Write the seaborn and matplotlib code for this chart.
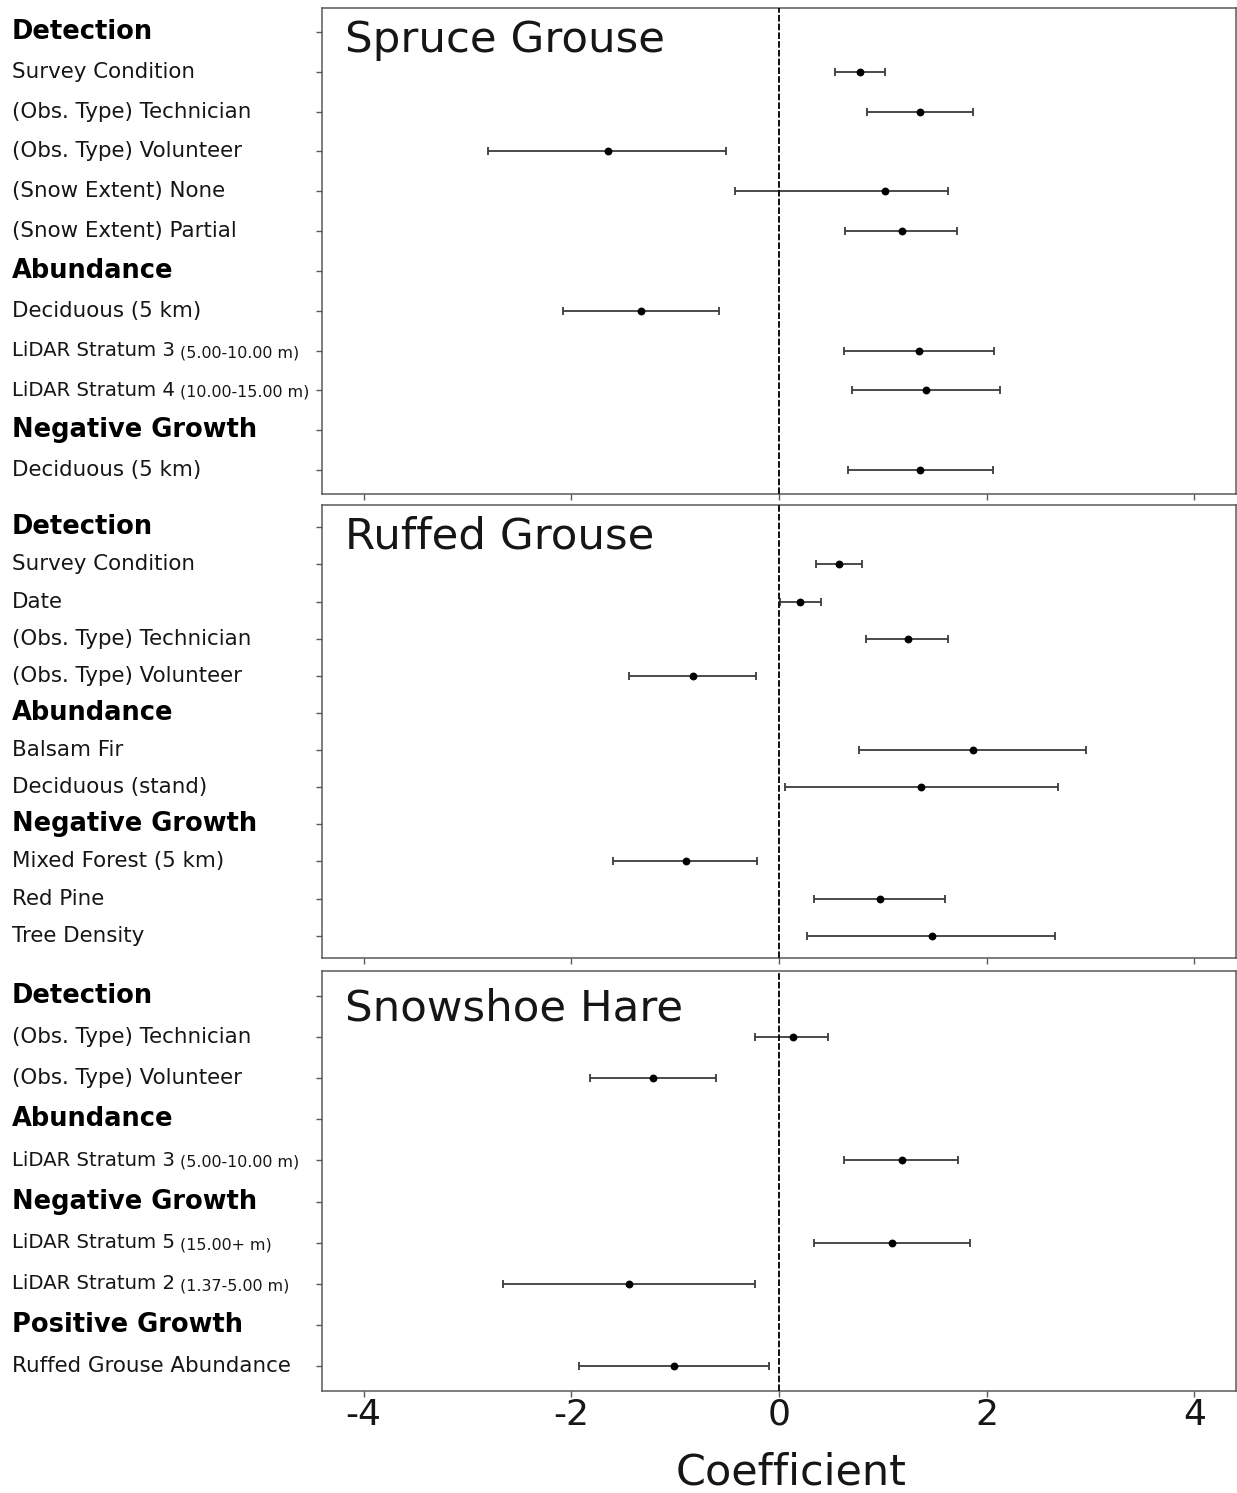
import numpy as np
import pandas as pd
import matplotlib
matplotlib.use("Agg")
import matplotlib.pyplot as plt
import matplotlib.transforms as mtransforms
import seaborn as sns

# ---- model coefficients (estimate with lower / upper interval) ----
HEADERS = ["Detection", "Abundance", "Negative Growth", "Positive Growth"]

spruce_labels = ["Detection", "Survey Condition", "(Obs. Type) Technician",
                 "(Obs. Type) Volunteer", "(Snow Extent) None", "(Snow Extent) Partial",
                 "Abundance", "Deciduous (5 km)", "LiDAR Stratum 3", "LiDAR Stratum 4",
                 "Negative Growth", "Deciduous (5 km)"]
spruce_notes = ["", "", "", "", "", "", "", "", "(5.00-10.00 m)", "(10.00-15.00 m)", "", ""]
spruce_est = [0.78, 1.36, -1.65, 1.02, 1.18, -1.33, 1.35, 1.42, 1.36]
spruce_lo = [0.54, 0.85, -2.80, -0.42, 0.64, -2.08, 0.63, 0.70, 0.66]
spruce_hi = [1.02, 1.87, -0.51, 1.63, 1.71, -0.58, 2.07, 2.13, 2.06]

ruffed_labels = ["Detection", "Survey Condition", "Date", "(Obs. Type) Technician",
                 "(Obs. Type) Volunteer", "Abundance", "Balsam Fir", "Deciduous (stand)",
                 "Negative Growth", "Mixed Forest (5 km)", "Red Pine", "Tree Density"]
ruffed_notes = [""] * len(ruffed_labels)
ruffed_est = [0.58, 0.20, 1.24, -0.83, 1.87, 1.37, -0.90, 0.97, 1.47]
ruffed_lo = [0.36, 0.01, 0.84, -1.44, 0.77, 0.06, -1.60, 0.34, 0.27]
ruffed_hi = [0.80, 0.40, 1.63, -0.22, 2.96, 2.69, -0.21, 1.60, 2.66]

hare_labels = ["Detection", "(Obs. Type) Technician", "(Obs. Type) Volunteer",
               "Abundance", "LiDAR Stratum 3", "Negative Growth", "LiDAR Stratum 5",
               "LiDAR Stratum 2", "Positive Growth", "Ruffed Grouse Abundance"]
hare_notes = ["", "", "", "", "(5.00-10.00 m)", "", "(15.00+ m)", "(1.37-5.00 m)", "", ""]
hare_est = [0.13, -1.21, 1.18, 1.09, -1.44, -1.01]
hare_lo = [-0.23, -1.82, 0.63, 0.34, -2.66, -1.93]
hare_hi = [0.47, -0.61, 1.72, 1.84, -0.23, -0.10]

x_ticks = [-4, -2, 0, 2, 4]

# ---- styling ----
sns.set_style("ticks")
plt.rcParams["font.family"] = ["DejaVu Sans"]
plt.rcParams["axes.unicode_minus"] = False
TEXT = "#161616"
SPINE = "#5a5a5a"

W, H = 1237, 1493
fig = plt.figure(figsize=(W / 100, H / 100), dpi=100)
left = 322 / W
width = (1236 - 322) / W


def panel_rect(top_px, bottom_px):
    return [left, 1 - bottom_px / H, width, (bottom_px - top_px) / H]


def draw_panel(ax, title, title_y, labels, notes, est, lo, hi, show_x):
    n = len(labels)
    rows = [i for i, lab in enumerate(labels) if lab not in HEADERS]
    df = pd.DataFrame({"row": rows, "est": est, "lo": lo, "hi": hi})

    ax.axvline(0, color="#111111", lw=1.4, ls=(0, (3.4, 1.1)), zorder=3)
    ax.errorbar(df["est"], df["row"],
                xerr=[df["est"] - df["lo"], df["hi"] - df["est"]],
                fmt="none", ecolor="#3c3c3c", elinewidth=1.3,
                capsize=3, capthick=1.3, zorder=2)
    sns.scatterplot(data=df, x="est", y="row", ax=ax, color="black",
                    s=32, linewidth=0, zorder=4, legend=False)

    ax.set_xlim(-4.4, 4.4)
    ax.set_ylim(n - 1 + 0.6, -0.6)
    ax.set_yticks(range(n))
    ax.set_yticklabels([])
    ax.set_xticks(x_ticks)
    ax.set_ylabel("")
    ax.set_xlabel("")
    for sp in ax.spines.values():
        sp.set_visible(True)
        sp.set_color(SPINE)
        sp.set_linewidth(1.1)
    ax.tick_params(axis="both", direction="out", length=4, width=1,
                   color=SPINE, labelcolor=TEXT, pad=1)
    if show_x:
        ax.tick_params(axis="x", labelsize=26)
        ax.set_xlabel("Coefficient", fontsize=31, color=TEXT)
        ax.xaxis.set_label_coords(0.513, -0.145)
    else:
        ax.tick_params(axis="x", labelbottom=False)

    ax.text(0.025, title_y, title, transform=ax.transAxes, fontsize=31.3,
            color=TEXT, va="baseline", ha="left")

    trans = mtransforms.blended_transform_factory(fig.transFigure, ax.transData)
    for i, (lab, note) in enumerate(zip(labels, notes)):
        if lab in HEADERS:
            t = ax.text(12 / W, i, lab, transform=trans, fontsize=18.5,
                        fontweight="bold", color="black", va="center", ha="left")
        else:
            size = 14.2 if note else 15.4
            t = ax.text(12 / W, i, lab, transform=trans, fontsize=size,
                        color=TEXT, va="center", ha="left")
        if note:
            ax.annotate(" " + note, xy=(1, 0), xycoords=t, fontsize=11.4,
                        color=TEXT, va="bottom", ha="left")


ax1 = fig.add_axes(panel_rect(8, 494))
ax2 = fig.add_axes(panel_rect(505, 958))
ax3 = fig.add_axes(panel_rect(971, 1391))

draw_panel(ax1, "Spruce Grouse", 0.9095, spruce_labels, spruce_notes,
           spruce_est, spruce_lo, spruce_hi, False)
draw_panel(ax2, "Ruffed Grouse", 0.905, ruffed_labels, ruffed_notes,
           ruffed_est, ruffed_lo, ruffed_hi, False)
draw_panel(ax3, "Snowshoe Hare", 0.883, hare_labels, hare_notes,
           hare_est, hare_lo, hare_hi, True)

fig.savefig("out.png", dpi=100, facecolor="white")
